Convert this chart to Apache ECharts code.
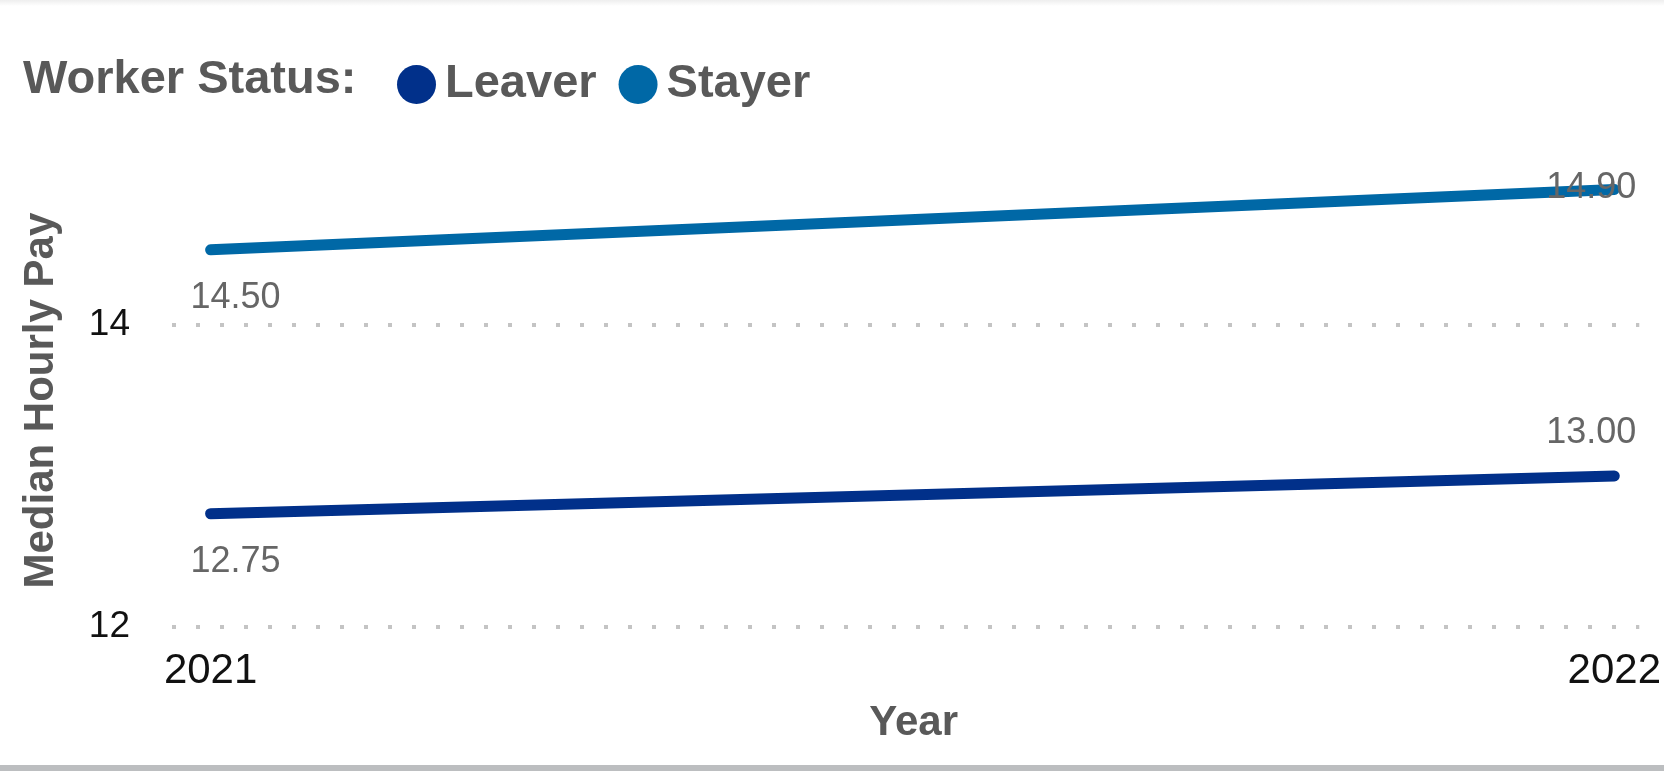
<!DOCTYPE html>
<html>
<head>
<meta charset="utf-8">
<script src="https://cdn.jsdelivr.net/npm/echarts@6/dist/echarts.min.js"></script>
<style>
  html, body { margin: 0; padding: 0; background: #ffffff; }
  #wrap { position: relative; width: 1664px; height: 771px; overflow: hidden; }
  #topbar { position: absolute; left: 0; top: 0; width: 1664px; height: 6px;
            background: linear-gradient(#eeeeee, #ffffff); }
  #botbar { position: absolute; left: 0; bottom: 0; width: 1664px; height: 6px; background: #bcbec0; }
  #chart { position: absolute; left: 0; top: 0; width: 1664px; height: 771px; }
</style>
</head>
<body>
<div id="wrap">
  <div id="topbar"></div>
  <div id="chart"></div>
  <div id="botbar"></div>
</div>
<script>
// ---- data ----
const years = [2021, 2022];
const seriesNames = ['Leaver', 'Stayer'];
const leaverPay = [12.75, 13.00];
const stayerPay = [14.50, 14.90];
const yTicks = [12, 14];

// ---- styles (kept apart from data) ----
const colors = { Leaver: '#01308A', Stayer: '#0068A6' };
const labelOffsets = {
  Leaver: [[25, 48], [-23, -43]],
  Stayer: [[25, 48], [-23, -1]]
};

function buildSeries(name, values) {
  return {
    name: name,
    type: 'line',
    symbol: 'circle',
    symbolSize: 1,
    showSymbol: true,
    z: name === 'Stayer' ? 3 : 2,
    itemStyle: { color: colors[name] },
    lineStyle: { color: colors[name], width: 11, cap: 'round' },
    data: years.map((yr, i) => ({
      value: [yr, values[i]],
      label: {
        show: true,
        position: 'inside',
        offset: labelOffsets[name][i],
        formatter: p => p.value[1].toFixed(2),
        color: '#666666',
        fontFamily: 'Liberation Sans, Arial, sans-serif',
        fontSize: 36
      }
    }))
  };
}

const chart = echarts.init(document.getElementById('chart'), null, { renderer: 'canvas' });
chart.setOption({
  backgroundColor: 'transparent',
  animation: false,
  title: {
    text: 'Worker Status:',
    left: 18,
    top: 52,
    textStyle: {
      color: '#595959',
      fontFamily: 'Liberation Sans, Arial, sans-serif',
      fontWeight: 'bold',
      fontSize: 47
    }
  },
  legend: {
    data: seriesNames,
    left: 392,
    top: 56,
    icon: 'circle',
    itemWidth: 39,
    itemHeight: 39,
    itemGap: 22,
    textStyle: {
      color: '#595959',
      fontFamily: 'Liberation Sans, Arial, sans-serif',
      fontWeight: 'bold',
      fontSize: 47,
      padding: [0, 0, 0, 4]
    }
  },
  grid: { left: 172, right: 24, top: 174.5, bottom: 144.3, containLabel: false },
  xAxis: {
    type: 'value',
    min: 2020.9725,
    max: 2022.0178,
    axisLine: { show: false },
    axisTick: { show: false },
    splitLine: { show: false },
    axisLabel: {
      customValues: years,
      formatter: v => String(v),
      color: '#111111',
      fontFamily: 'Liberation Sans, Arial, sans-serif',
      fontSize: 42,
      margin: 24
    },
    name: 'Year',
    nameLocation: 'middle',
    nameGap: 76,
    nameTextStyle: {
      color: '#595959',
      fontFamily: 'Liberation Sans, Arial, sans-serif',
      fontWeight: 'bold',
      fontSize: 42,
      padding: [0, 0, 0, 16]
    }
  },
  yAxis: {
    type: 'value',
    min: 12,
    max: 15,
    interval: 2,
    axisLine: { show: false },
    axisTick: { show: false },
    splitLine: {
      show: true,
      lineStyle: { color: ['#c4c4c4', '#c4c4c4', 'rgba(0,0,0,0)'], width: 4, type: [4, 20] }
    },
    axisLabel: {
      formatter: v => (yTicks.indexOf(v) >= 0 ? String(v) : ''),
      color: '#111111',
      fontFamily: 'Liberation Sans, Arial, sans-serif',
      fontSize: 37,
      margin: 42
    },
    name: 'Median Hourly Pay',
    nameLocation: 'middle',
    nameGap: 110,
    nameTextStyle: {
      color: '#595959',
      fontFamily: 'Liberation Sans, Arial, sans-serif',
      fontWeight: 'bold',
      fontSize: 42
    }
  },
  series: [
    buildSeries('Leaver', leaverPay),
    buildSeries('Stayer', stayerPay)
  ]
});
</script>
</body>
</html>
